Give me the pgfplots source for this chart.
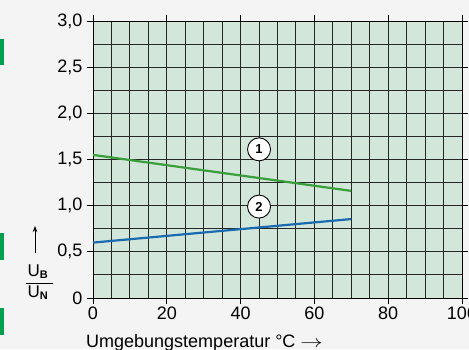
\documentclass[border=0pt]{standalone}
\usepackage{pgfplots}
\pgfplotsset{compat=1.18}
\usetikzlibrary{arrows.meta}
\usepackage{graphicx}
\usepackage{fontspec}
\setmainfont{Liberation Sans}
\definecolor{bg}{HTML}{F4F4F4}
\definecolor{barg}{HTML}{00A050}
\definecolor{gridfill}{HTML}{D2E7DA}
\definecolor{lgreen}{HTML}{3A9E3A}
\definecolor{lblue}{HTML}{1A6AB0}
\begin{document}
\begin{tikzpicture}[x=1pt,y=1pt]
\fill[bg] (-93,-51) rectangle (376,298);
\fill[barg] (-93,259) rectangle (-89,233);
\fill[barg] (-93,65) rectangle (-89,38);
\fill[barg] (-93,-10) rectangle (-89,-37);
\begin{axis}[
  at={(0,0)}, anchor=south west, scale only axis,
  width=369pt, height=277pt,
  xmin=0, xmax=100, ymin=0, ymax=3,
  axis background/.style={fill=gridfill},
  xtick={0,20,40,60,80,100},
  ytick={0,0.5,1,1.5,2,2.5,3},
  yticklabels={0,{0,5},{1,0},{1,5},{2,0},{2,5},{3,0}},
  xticklabels={0,20,40,60,80,100},
  minor x tick num=3, minor y tick num=1,
  grid=both,
  major grid style={black!85, line width=0.9pt},
  minor grid style={black!85, line width=0.9pt},
  tick align=outside,
  major tick length=6pt, minor tick length=0pt,
  tick style={black, line width=0.9pt},
  axis line style={black, line width=0.9pt},
  tick label style={font=\fontsize{18}{18}\selectfont},
  xticklabel style={yshift=1pt},
  yticklabel style={xshift=-1pt},
  clip=false,
]
\addplot[lgreen, line width=2.2pt] coordinates {(0,1.55) (70,1.16)};
\addplot[lblue, line width=2.2pt] coordinates {(0,0.60) (70,0.855)};
\node[circle, draw=black, fill=white, line width=0.9pt, inner sep=0pt, minimum size=23pt, font=\bfseries\fontsize{13}{13}\selectfont] at (axis cs:45,1.61) {1};
\node[circle, draw=black, fill=white, line width=0.9pt, inner sep=0pt, minimum size=23pt, font=\bfseries\fontsize{13}{13}\selectfont] at (axis cs:45,0.99) {2};
\end{axis}
\node[anchor=base west, font=\fontsize{18}{18}\selectfont, inner sep=0pt] at (-7,-49) {Umgebungstemperatur °C \scalebox{1.3}[1]{$\rightarrow$}};
\draw[black, line width=0.9pt, -{Stealth[length=6pt,width=4.5pt]}] (-58,45) -- (-58,72);
\node[font=\fontsize{17}{17}\selectfont, inner sep=0pt, anchor=base] at (-55,22) {U\textsubscript{\bfseries\fontsize{11}{11}\selectfont B}};
\draw[black, line width=1pt] (-67,14.5) -- (-40,14.5);
\node[font=\fontsize{17}{17}\selectfont, inner sep=0pt, anchor=base] at (-55,1) {U\textsubscript{\bfseries\fontsize{11}{11}\selectfont N}};
\pgfresetboundingbox
\useasboundingbox (-93,-51) rectangle (376,298);
\end{tikzpicture}
\end{document}
